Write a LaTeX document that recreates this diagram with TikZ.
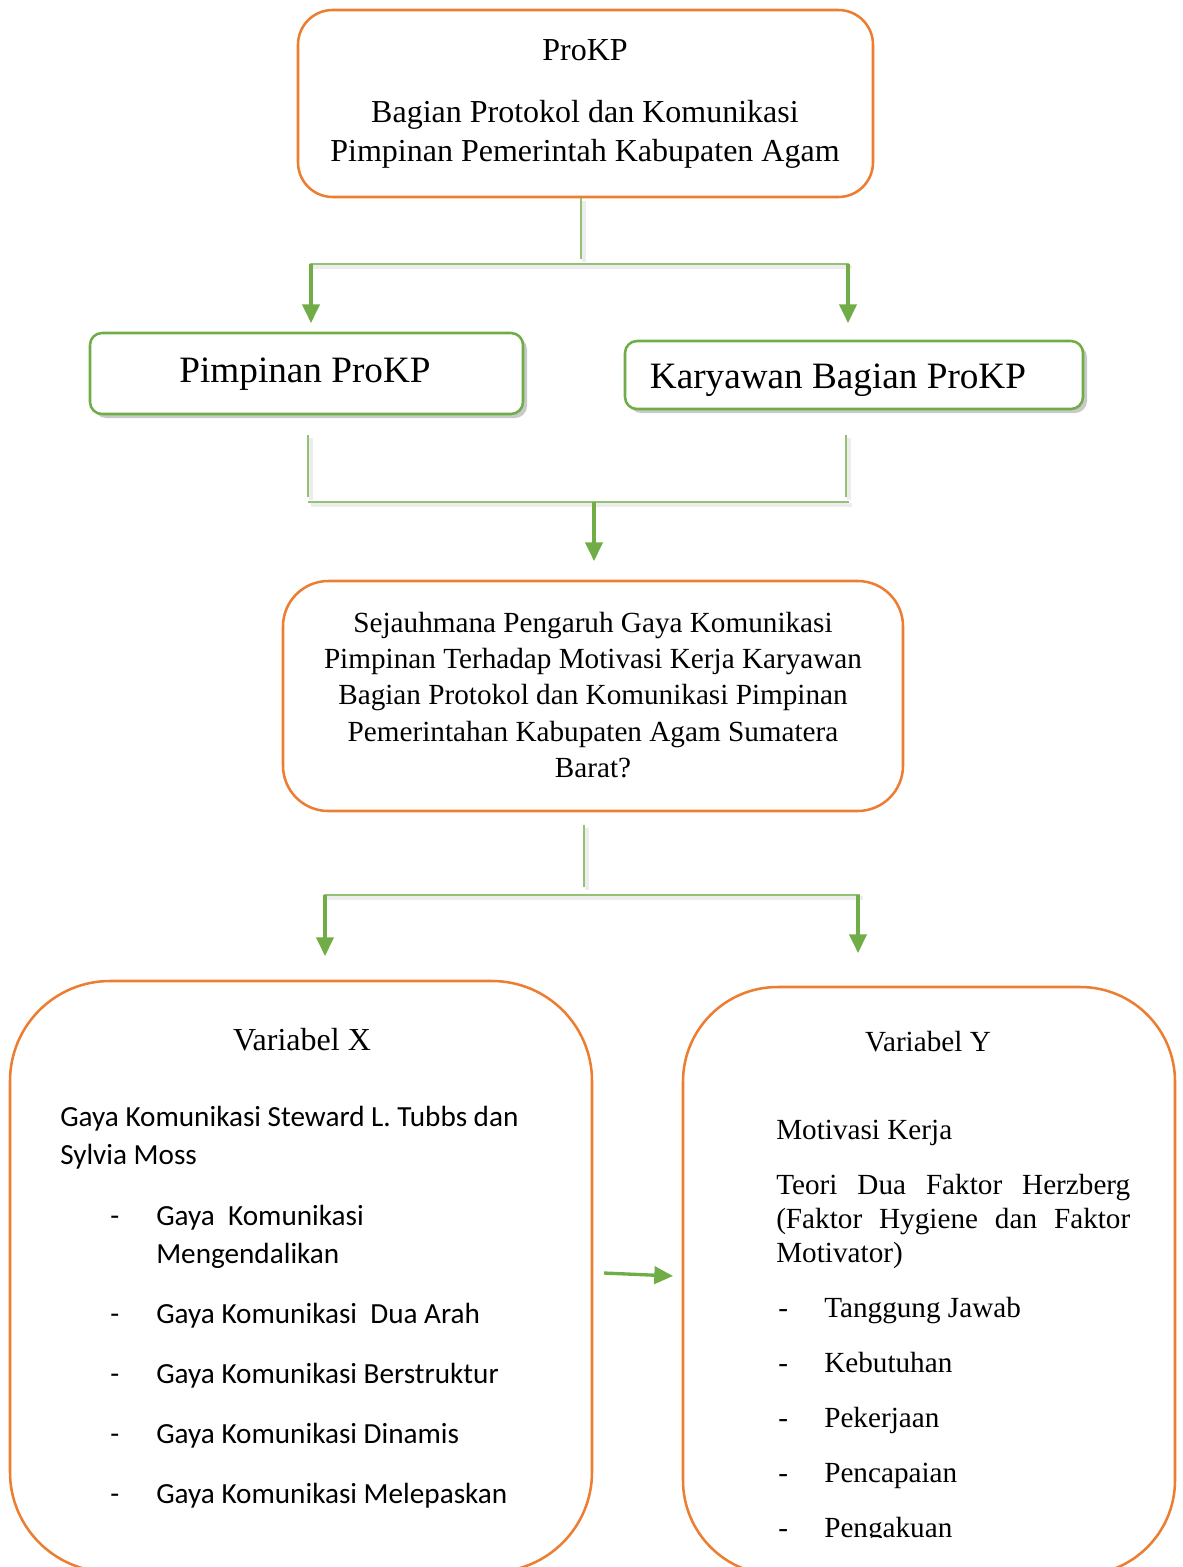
\documentclass[tikz,border=0pt]{standalone}
\usepackage{fontspec}
\setmainfont{Liberation Serif}
\newfontfamily\calibrifont{Carlito}
\usetikzlibrary{arrows.meta,positioning,shadows}
\definecolor{prokpOrange}{HTML}{ED7D31}
\definecolor{prokpGreen}{HTML}{70AD47}
\tikzset{
orangebox/.style={draw=prokpOrange, line width=1.9pt, rounded corners=#1, inner sep=0pt, outer sep=0pt},
greenbox/.style={draw=prokpGreen, line width=1.9pt, rounded corners=9pt, fill=white, inner sep=0pt,
    drop shadow={shadow xshift=3pt, shadow yshift=-3pt, opacity=.3, fill=black!70}},
softshadow/.style={preaction={draw=black, draw opacity=.07, line width=3pt, transform canvas={shift={(2pt,-2pt)}}}},
link/.style={softshadow, draw=prokpGreen!75, line width=1.3pt},
arr/.style={-{Triangle[length=14pt,width=13pt]}, draw=prokpGreen, line width=2.5pt},
txt/.style={inner sep=0pt, anchor=base},
ltxt/.style={inner sep=0pt, anchor=base west},
}

\begin{document}
\begin{tikzpicture}[x=0.75pt, y=-0.75pt,
        big/.style={font=\fontsize{24}{28}\selectfont},
        huge/.style={font=\fontsize{27.9}{32}\selectfont},
        mid/.style={font=\fontsize{21.9}{26}\selectfont},
        sans/.style={font=\calibrifont\fontsize{21.9}{26}\selectfont}
    ]
    \useasboundingbox (0,0) rectangle (1182,1567);
    \clip (0,0) rectangle (1182,1567);

    % boxes
    \node[orangebox=26pt, minimum width=431.25pt, minimum height=140.25pt] (prokp) at (585.5,103.5) {};
    \node[greenbox, minimum width=324.75pt, minimum height=60.75pt] (pimpinan) at (306.5,373.5) {};
    \node[greenbox, minimum width=343.5pt, minimum height=51pt] (karyawan) at (854,375) {};
    \node[orangebox=34pt, minimum width=465pt, minimum height=172.5pt] (question) at (593,696) {};
    \node[orangebox=75pt, minimum width=436.5pt, minimum height=443.25pt] (varX) at (301,1276.5) {};
    \node[orangebox=71pt, minimum width=369pt, minimum height=441pt] (varY) at (929,1281) {};

    % texts
    \node[txt, big] (prokpName) at (585,60) {ProKP};
    \node[txt, big] (prokpLine1) at (585,122) {Bagian Protokol dan Komunikasi};
    \node[txt, big] (prokpLine2) at (585,161) {Pimpinan Pemerintah Kabupaten Agam};
    \node[txt, huge] (pimpinanText) at (305,382) {Pimpinan ProKP};
    \node[txt, huge] (karyawanText) at (838,388) {Karyawan Bagian ProKP};
    \foreach \y/\t [count=\i] in {632/Sejauhmana Pengaruh Gaya Komunikasi,
            668/Pimpinan Terhadap Motivasi Kerja Karyawan,
            704/Bagian Protokol dan Komunikasi Pimpinan,
            741/Pemerintahan Kabupaten Agam Sumatera,
            777/Barat?}
        \node[txt, mid] (q\i) at (593,\y) {\t};

    \node[txt, big] (varXTitle) at (302,1050) {Variabel X};
    \node[ltxt, sans] (teoriX1) at (60,1126) {Gaya Komunikasi Steward L. Tubbs dan};
    \node[ltxt, sans] (teoriX2) at (60,1164) {Sylvia Moss};
    \foreach \y in {1225,1323,1383,1443,1503}
        \node[ltxt, sans] (dashX\y) at (110,\y) {-};
    \foreach \y/\t [count=\i] in {1225/Gaya\ \ Komunikasi,
            1263/Mengendalikan,
            1323/Gaya Komunikasi\ \ Dua Arah,
            1383/Gaya Komunikasi Berstruktur,
            1443/Gaya Komunikasi Dinamis,
            1503/Gaya Komunikasi Melepaskan}
        \node[ltxt, sans] (itemX\i) at (156,\y) {\t};

    \node[txt, mid] (varYTitle) at (928,1051) {Variabel Y};
    \node[ltxt, mid] (teoriY0) at (776,1139) {Motivasi Kerja};
    \node[ltxt, mid] (teoriY1) at (776,1194) {\makebox[265.5pt][s]{Teori Dua Faktor Herzberg}};
    \node[ltxt, mid] (teoriY2) at (776,1228) {\makebox[265.5pt][s]{(Faktor Hygiene dan Faktor}};
    \node[ltxt, mid] (teoriY3) at (776,1262) {Motivator)};
    \begin{scope}
        \clip (690,1000) rectangle (1170,1537);
        \foreach \y/\t [count=\i] in {1317/Tanggung Jawab, 1372/Kebutuhan,
                1427/Pekerjaan, 1482/Pencapaian, 1537/Pengakuan}
        {
            \node[ltxt, mid] (dashY\i) at (778,\y) {-};
            \node[ltxt, mid] (itemY\i) at (824,\y) {\t};
        }
    \end{scope}

    % connectors
    \coordinate (splitA) at (581,198);
    \coordinate (splitA') at (581,259);
    \coordinate (splitAL) at (310,264);
    \coordinate (splitAR) at (849,264);
    \coordinate (tipA1) at (311,323);
    \coordinate (tipA2) at (848,323);
    \draw[link] (splitA) -- (splitA');
    \draw[link, line width=1.8pt] (splitAL) -- (splitAR);
    \draw[arr] (splitAL -| tipA1) -- (tipA1);
    \draw[arr] (splitAR -| tipA2) -- (tipA2);

    \coordinate (joinL) at (308,435);
    \coordinate (joinR) at (846,435);
    \coordinate (joinBar) at (594,502);
    \coordinate (tipB) at (594,561);
    \draw[link] (joinL) -- (joinL |- 497,497);
    \draw[link] (joinR) -- (joinR |- 497,497);
    \draw[link, line width=1.8pt] (joinL |- joinBar) -- (849,502);
    \draw[arr] (joinBar) -- (tipB);

    \coordinate (splitC) at (584,825);
    \coordinate (splitC') at (584,887);
    \coordinate (splitCL) at (324,895);
    \coordinate (splitCR) at (860,895);
    \coordinate (tipC1) at (325,956);
    \coordinate (tipC2) at (858,953);
    \draw[link] (splitC) -- (splitC');
    \draw[link, line width=1.8pt] (splitCL) -- (splitCR);
    \draw[arr] (splitCL -| tipC1) -- (tipC1);
    \draw[arr] (splitCR -| tipC2) -- (tipC2);

    \coordinate (xToY) at (604,1273);
    \coordinate (yFromX) at (673,1276);
    \draw[arr] (xToY) -- (yFromX);
\end{tikzpicture}
\end{document}
